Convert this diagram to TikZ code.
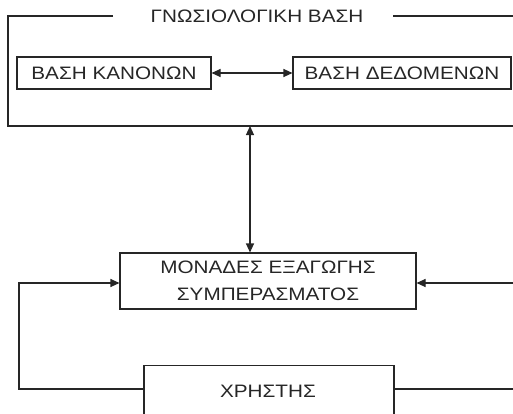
\documentclass[tikz,border=0pt]{standalone}
\usepackage{fontspec}
\setmainfont{Liberation Sans}[FakeStretch=1.15]
\usetikzlibrary{arrows.meta}
\definecolor{ink}{HTML}{262626}
\tikzset{
  conn/.style={draw=ink, line width=1.1pt},
  arr/.style={conn, -{Triangle[length=9pt,width=8pt]}},
  darr/.style={conn, {Triangle[length=9pt,width=8pt]}-{Triangle[length=9pt,width=8pt]}},
  box/.style={draw=ink, line width=1.1pt, inner sep=0pt, font=\fontsize{18}{27}\selectfont, text=ink, align=center},
  lbl/.style={inner sep=0pt, font=\fontsize{18}{27}\selectfont, text=ink}
}
\begin{document}
\begin{tikzpicture}[x=1pt,y=-1pt]
\useasboundingbox (0,0) rectangle (513,413);
\clip (0,0) rectangle (513,413);
% knowledge base frame
\node[lbl] (kb) at (257,16) {ΓΝΩΣΙΟΛΟΓΙΚΗ ΒΑΣΗ};
\coordinate (kbl) at (113,16);
\coordinate (kbr) at (393,16);
\coordinate (kbre) at (530,16);
\draw[conn] (kbl) -- (8,16) -- (8,126) -- (530,126);
\draw[conn] (kbr) -- (kbre);
% inner boxes
\node[box, minimum width=194pt, minimum height=32pt] (rules) at (114,73) {ΒΑΣΗ ΚΑΝΟΝΩΝ};
\node[box, minimum width=218pt, minimum height=32pt] (data) at (402,73) {ΒΑΣΗ ΔΕΔΟΜΕΝΩΝ};
\draw[darr] (rules.east) -- (data.west);
% inference engine
\coordinate (kbb) at (250,126);
\node[box, minimum width=296pt, minimum height=56pt] (inf) at (268,281) {ΜΟΝΑΔΕΣ ΕΞΑΓΩΓΗΣ\\ΣΥΜΠΕΡΑΣΜΑΤΟΣ};
\draw[darr] (kbb) -- (inf.north -| kbb);
% user
\node[box, minimum width=250pt, minimum height=70pt, anchor=north] (user) at (269,365) {};
\node[lbl] (usert) at (268,391) {ΧΡΗΣΤΗΣ};
\coordinate (ul) at (144,389);
\coordinate (ur) at (394,389);
\draw[arr] (ul) -- (19,389) -- (19,283) -- (inf.west |- 0,283);
\draw[arr] (ur) -- (530,389) -- (530,283) -- (inf.east |- 0,283);
\end{tikzpicture}
\end{document}
